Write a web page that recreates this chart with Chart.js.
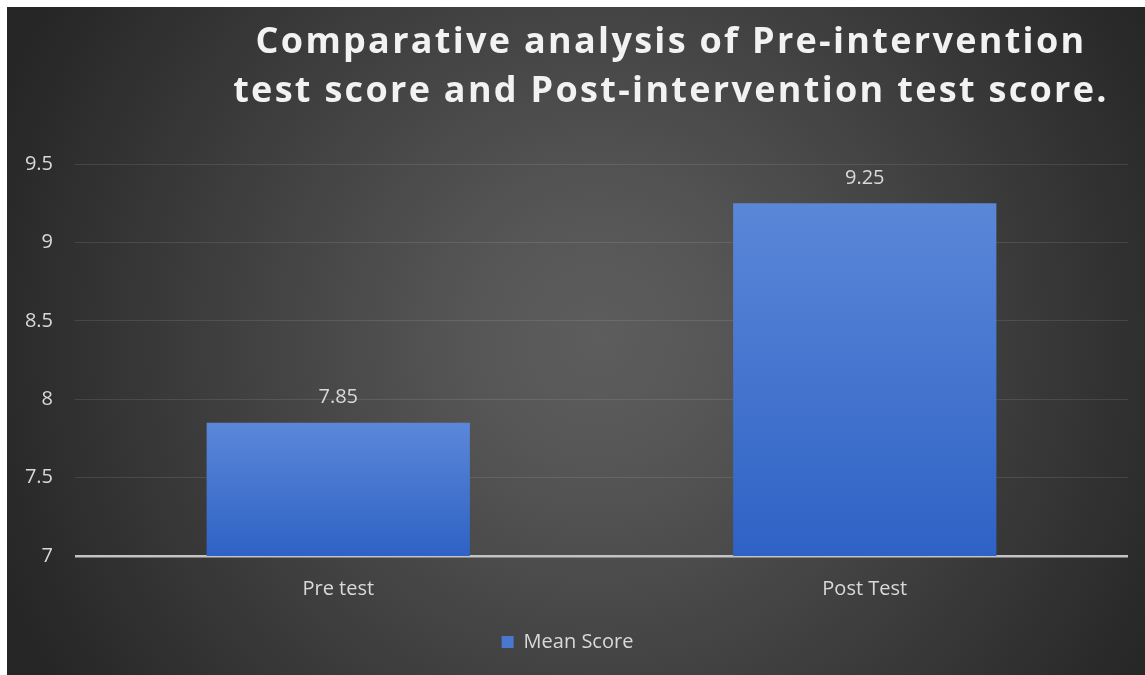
<!DOCTYPE html>
<html>
<head>
<meta charset="utf-8">
<script src="https://cdn.jsdelivr.net/npm/chart.js@4"></script>
<style>
  body { margin: 0; background: #fff; }
  #wrap { position: absolute; left: 7px; top: 7px; width: 1138px; height: 668px; }
</style>
</head>
<body>
<div id="wrap"><canvas id="myChart"></canvas></div>
<script>
const categories = ['Pre test', 'Post Test'];
const meanScore = [7.85, 9.25];
const titleLines = ['Comparative analysis of Pre-intervention', 'test score and Post-intervention test score.'];

const FONT = '"Open Sans", sans-serif';
const TEXT = '#d9d9d9';

// dark radial background like the office theme
const bgPlugin = {
    id: 'bg',
    beforeDraw(chart) {
        const ctx = chart.ctx;
        const w = chart.width, h = chart.height;
        const g = ctx.createRadialGradient(590, 330, 0, 590, 330, 640);
        g.addColorStop(0, '#5d5d5d');
        g.addColorStop(0.2, '#565656');
        g.addColorStop(1, '#262626');
        ctx.save();
        ctx.fillStyle = g;
        ctx.fillRect(0, 0, w, h);
        ctx.restore();
    }
};

// two line title, centred a bit right of the canvas centre
const titlePlugin = {
    id: 'bigTitle',
    afterDraw(chart) {
        const ctx = chart.ctx;
        ctx.save();
        ctx.font = 'bold 36px ' + FONT;
        ctx.letterSpacing = '2.3px';
        ctx.fillStyle = '#f2f2f2';
        ctx.textAlign = 'center';
        ctx.textBaseline = 'alphabetic';
        ctx.fillText(titleLines[0], 664, 46);
        ctx.fillText(titleLines[1], 664, 95);
        ctx.restore();
    }
};

// value labels above the bars
const valuePlugin = {
    id: 'values',
    afterDatasetsDraw(chart) {
        const ctx = chart.ctx;
        const meta = chart.getDatasetMeta(0);
        ctx.save();
        ctx.font = '20px ' + FONT;
        ctx.fillStyle = TEXT;
        ctx.textAlign = 'center';
        ctx.textBaseline = 'middle';
        meta.data.forEach((bar, i) => {
            ctx.fillText(String(meanScore[i]), bar.x, bar.y - 25);
        });
        ctx.restore();
    }
};

function barGradient(context) {
    const chart = context.chart;
    if (!chart.chartArea || context.type !== 'data') return '#4472c4';
    const y = chart.scales.y;
    const top = y.getPixelForValue(context.raw);
    const bottom = y.bottom;
    const g = chart.ctx.createLinearGradient(0, top, 0, bottom);
    g.addColorStop(0, '#5b87d8');
    g.addColorStop(1, '#2e62c5');
    return g;
}

const data = {
    labels: categories,
    datasets: [
        {
            label: 'Mean Score',
            data: meanScore,
            backgroundColor: barGradient,
            borderWidth: 0,
            categoryPercentage: 1,
            barPercentage: 0.5,
        }
    ]
};

const config = {
    type: 'bar',
    data: data,
    options: {
        responsive: true,
        maintainAspectRatio: false,
        animation: false,
        layout: {
            padding: { top: 157, right: 17, bottom: 13, left: 0 }
        },
        plugins: {
            title: { display: false },
            tooltip: { enabled: false },
            legend: {
                position: 'bottom',
                labels: {
                    color: TEXT,
                    font: { family: FONT, size: 20 },
                    boxWidth: 12,
                    boxHeight: 12,
                    padding: 10,
                    generateLabels(chart) {
                        return [{
                            text: 'Mean Score',
                            fillStyle: '#4a78d0',
                            strokeStyle: '#4a78d0',
                            lineWidth: 0,
                            fontColor: TEXT,
                            datasetIndex: 0
                        }];
                    }
                }
            }
        },
        scales: {
            x: {
                grid: { display: false },
                border: { display: false },
                afterFit(scale) { scale.height += 8; },
                ticks: {
                    color: TEXT,
                    font: { family: FONT, size: 20 },
                    padding: 13
                }
            },
            y: {
                min: 7,
                max: 9.5,
                border: { display: false },
                afterFit(scale) { scale.width = 68; },
                grid: {
                    drawTicks: false,
                    color: ctx => ctx.tick && ctx.tick.value === 7 ? '#c4c4c4' : 'rgba(255,255,255,0.1)',
                    lineWidth: ctx => ctx.tick && ctx.tick.value === 7 ? 2.5 : 1
                },
                ticks: {
                    stepSize: 0.5,
                    color: TEXT,
                    font: { family: FONT, size: 20 },
                    padding: 22,
                    callback: v => String(v)
                }
            }
        }
    },
    plugins: [bgPlugin, valuePlugin, titlePlugin]
};

const myChart = new Chart(document.getElementById('myChart'), config);
</script>
</body>
</html>
